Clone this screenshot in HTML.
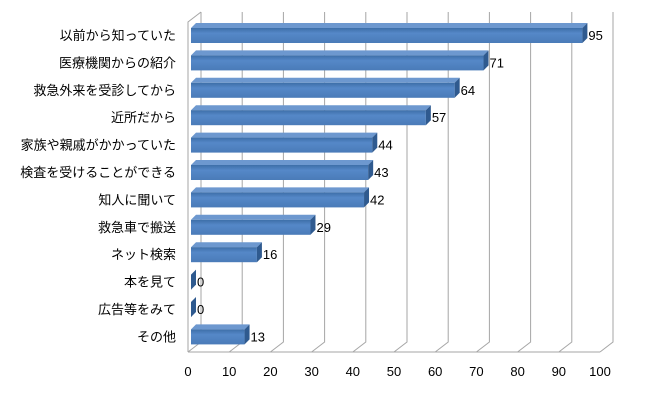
<!DOCTYPE html>
<html><head><meta charset="utf-8"><style>
body{margin:0;background:#fff;}
svg text{font-family:"Liberation Sans","Noto Sans CJK JP",sans-serif;font-size:13px;fill:#000;}
</style></head><body>
<svg width="650" height="402" viewBox="0 0 650 402" xmlns="http://www.w3.org/2000/svg">
<defs>
<linearGradient id="gf" x1="0" y1="0" x2="0" y2="1"><stop offset="0" stop-color="#3d6ea8"/><stop offset="0.35" stop-color="#5588c8"/><stop offset="1" stop-color="#4a7bb8"/></linearGradient>
</defs>
<g id="grid"></g>
<g id="bars"></g>
<g id="labels"></g>
</svg>
<script>
const categories=["以前から知っていた","医療機関からの紹介","救急外来を受診してから","近所だから","家族や親戚がかかっていた","検査を受けることができる","知人に聞いて","救急車で搬送","ネット検索","本を見て","広告等をみて","その他"];
const values=[95,71,64,57,44,43,42,29,16,0,0,13];
const ticks=[0,10,20,30,40,50,60,70,80,90,100];
const NS="http://www.w3.org/2000/svg";
const X0=188,SC=4.12,DX=13,DY=-10,FLOOR=352,TOP=22;
const x=v=>X0+v*SC;
const yc=i=>35+i*27.4;
function mk(t,a,p){const e=document.createElementNS(NS,t);for(const k in a)e.setAttribute(k,a[k]);p.appendChild(e);return e;}
const grid=document.getElementById('grid'),bars=document.getElementById('bars'),lab=document.getElementById('labels');
// walls
const wall=mk('polyline',{points:`${X0},${FLOOR} ${X0},${TOP} ${X0+DX},${TOP+DY}`,fill:'none',stroke:'#a6a6a6'},grid);


const floor=mk('line',{x1:X0,y1:FLOOR,x2:x(100),y2:FLOOR,stroke:'#a6a6a6'},grid);


ticks.forEach(t=>{
  const g=mk('polyline',{points:`${x(t)},${FLOOR} ${x(t)+DX},${FLOOR+DY} ${x(t)+DX},${TOP+DY}`,fill:'none',stroke:'#a6a6a6'},grid);
  
  
  const tl=mk('text',{x:x(t),y:376,'text-anchor':'middle'},lab);tl.textContent=t;
  
  
});
categories.forEach((c,i)=>{
  const cy=yc(i),y0=cy-7,h=15,bx=X0+3,ex=bx+values[i]*SC,d=5;
  const g=mk('g',{},bars);
  
  
  mk('polygon',{points:`${bx},${y0} ${bx+d},${y0-d} ${ex+d},${y0-d} ${ex},${y0}`,fill:'#6d98cf'},g);
  mk('rect',{x:bx,y:y0,width:Math.max(ex-bx,0.5),height:h,fill:'url(#gf)'},g);
  mk('polygon',{points:`${ex},${y0} ${ex+d},${y0-d} ${ex+d},${y0+h-d} ${ex},${y0+h}`,fill:'#2f5a8f'},g);
  const vl=mk('text',{x:ex+d+1,y:cy+5},lab);vl.textContent=values[i];
  
  
  const cl=mk('text',{x:176,y:cy+5,'text-anchor':'end'},lab);cl.textContent=c;
  
  
});
</script>
</body></html>
